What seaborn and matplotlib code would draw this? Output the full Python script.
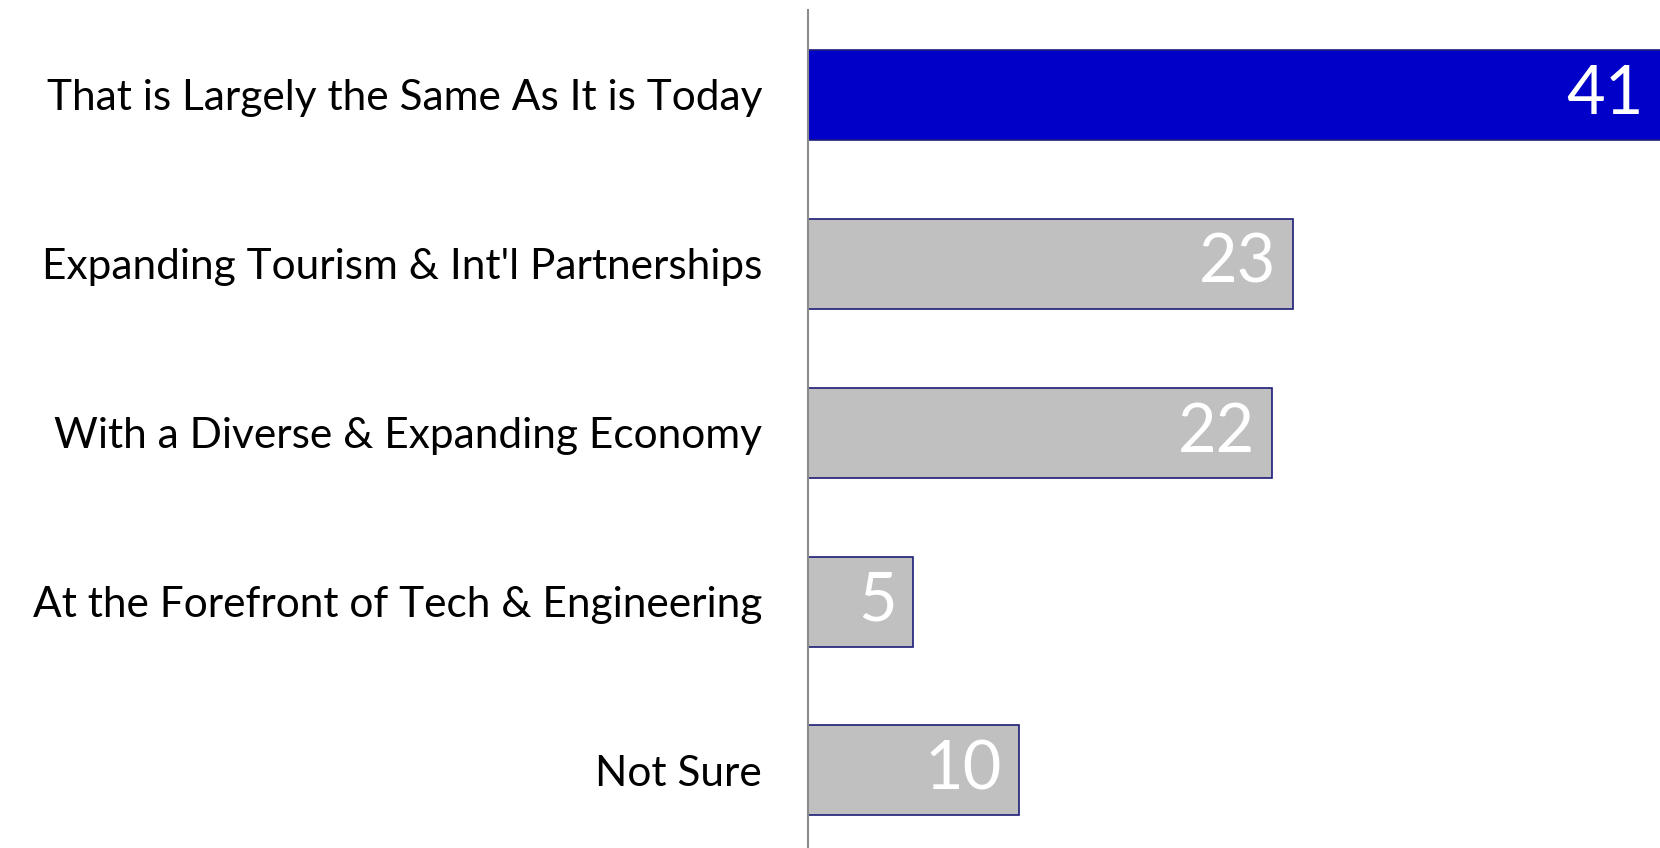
import pandas as pd
import seaborn as sns
from matplotlib import pyplot as plt

# Daten
categories = [
    "That is Largely the Same As It is Today",
    "Expanding Tourism & Int'l Partnerships",
    "With a Diverse & Expanding Economy",
    "At the Forefront of Tech & Engineering",
    "Not Sure",
]
values = [41, 23, 22, 5, 10]
bar_colors = ["#0000c8", "#c0c0c0", "#c0c0c0", "#c0c0c0", "#c0c0c0"]

df = pd.DataFrame({"category": categories, "value": values})

sns.set_style("white")
plt.rcParams['font.family'] = ['Lato', 'DejaVu Sans']

fig = plt.figure(figsize=(16.6, 8.48), dpi=100)
ax = fig.add_axes([808 / 1660, 0, 1 - 808 / 1660, 838 / 848])

sns.barplot(data=df, x="value", y="category", hue="category", palette=bar_colors,
            orient="h", width=0.533, edgecolor="#1c1c78", linewidth=1.2,
            saturation=1, legend=False, ax=ax)

xmax = 40.4
ax.set_xlim(0, xmax)
ax.set_ylim(4.459, -0.503)

# Werte rechtsbündig in die Balken
for i, v in enumerate(values):
    ax.annotate(str(v), xy=(min(v, xmax), i), xytext=(-12, 0), textcoords="offset points",
                ha="right", va="center", fontsize=48, color="white")

# Achsen
for s in ["top", "right", "bottom"]:
    ax.spines[s].set_visible(False)
ax.spines["left"].set_color("#8c8c8c")
ax.spines["left"].set_linewidth(1.5)
ax.set_xticks([])
ax.set_xlabel("")
ax.set_ylabel("")
ax.tick_params(axis="y", length=0, pad=33, labelsize=30.5, labelcolor="black")

plt.savefig("out.png", dpi=100)
